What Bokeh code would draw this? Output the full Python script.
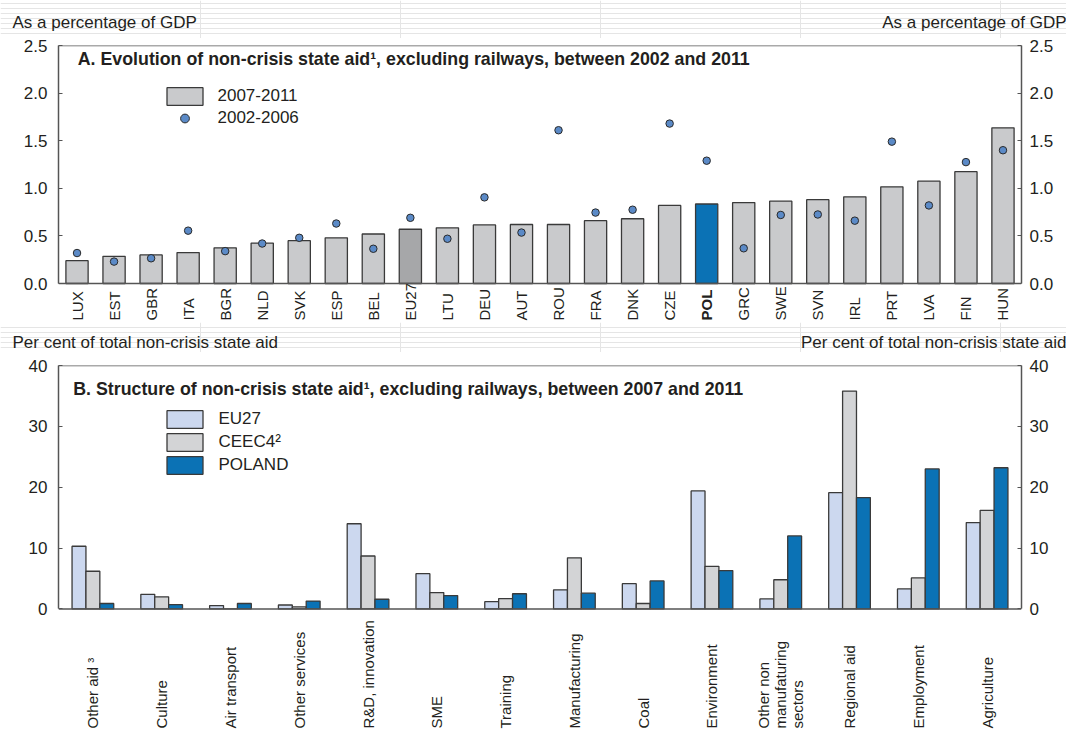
import math
from bokeh.plotting import figure
from bokeh.models import (ColumnDataSource, Range1d, FactorRange, LinearAxis, Label, Span,
                          Legend, LegendItem, FixedTicker, NumeralTickFormatter)
from bokeh.core.properties import value
from bokeh.transform import dodge
from bokeh.layouts import column
from bokeh.embed import file_html
from bokeh.resources import INLINE

# ---------------- data ----------------
countries = ["LUX", "EST", "GBR", "ITA", "BGR", "NLD", "SVK", "ESP", "BEL", "EU27", "LTU", "DEU", "AUT",
             "ROU", "FRA", "DNK", "CZE", "POL", "GRC", "SWE", "SVN", "IRL", "PRT", "LVA", "FIN", "HUN"]
aid_2007_2011 = [0.24, 0.285, 0.30, 0.325, 0.375, 0.425, 0.45, 0.48, 0.52, 0.57, 0.585, 0.615, 0.62,
                 0.62, 0.66, 0.68, 0.82, 0.835, 0.85, 0.865, 0.88, 0.91, 1.015, 1.075, 1.175, 1.635]
aid_2002_2006 = [0.32, 0.23, 0.265, 0.555, 0.34, 0.42, 0.48, 0.63, 0.365, 0.69, 0.47, 0.905, 0.535,
                 1.61, 0.745, 0.775, 1.68, 1.29, 0.37, 0.72, 0.725, 0.66, 1.49, 0.82, 1.275, 1.40]
top_ticks = [0.0, 0.5, 1.0, 1.5, 2.0, 2.5]

sectors = ["Other aid \u00b3", "Culture", "Air transport", "Other services", "R&D, innovation", "SME",
           "Training", "Manufacturing", "Coal", "Environment", "Other non\nmanufaturing\nsectors",
           "Regional aid", "Employment", "Agriculture"]
eu27 = [10.3, 2.4, 0.55, 0.65, 14.0, 5.8, 1.2, 3.15, 4.15, 19.4, 1.65, 19.1, 3.3, 14.2]
ceec4 = [6.2, 2.0, 0.0, 0.35, 8.7, 2.7, 1.7, 8.4, 0.9, 7.0, 4.8, 35.8, 5.1, 16.2]
poland = [0.9, 0.7, 0.9, 1.3, 1.6, 2.2, 2.5, 2.6, 4.6, 6.3, 12.0, 18.3, 23.0, 23.2]
bottom_ticks = [0, 10, 20, 30, 40]

title_a = "A. Evolution of non-crisis state aid\u00b9, excluding railways, between 2002 and 2011"
title_b = "B. Structure of non-crisis state aid\u00b9, excluding railways, between 2007 and 2011"
unit_a = "As a percentage of GDP"
unit_b = "Per cent of total non-crisis state aid"

# ---------------- styles / layout ----------------
FONT = "Liberation Sans"
TXT = "#231f20"
EDGE = "#3a3a3a"
AXIS = "#555555"
GREY = "#c9cacc"
DARKGREY = "#a6a7a9"
BLUE = "#0b72b5"
LIGHTBLUE = "#ccd8ef"
CEEC_GREY = "#d3d4d6"
DOT = "#5b8ac7"

W = 1066
LEFT, RIGHT = 58, 45
A_PX_PER_UNIT = 95.2      # vertical scale of panel A
A_LABEL_SPACE = 37        # px below the zero line for country labels
B_PX_PER_UNIT = 6.085     # vertical scale of panel B
B_LABEL_SPACE = 119.5     # px below the zero line for sector labels


def style_axis(ax, ticks, fmt, standoff, top):
    ax.ticker = FixedTicker(ticks=ticks)
    ax.formatter = NumeralTickFormatter(format=fmt)
    ax.bounds = (0, top)
    ax.major_label_text_font = FONT
    ax.major_label_text_font_size = "17px"
    ax.major_label_text_color = TXT
    ax.axis_line_color = AXIS
    ax.axis_line_width = 1.5
    ax.major_tick_line_color = AXIS
    ax.major_tick_in = 4
    ax.major_tick_out = 0
    ax.minor_tick_line_color = None
    ax.major_label_standoff = standoff


def unit_strip(text, h, ymid):
    s = figure(width=W, height=h, x_range=Range1d(0, W), y_range=Range1d(0, h),
               output_backend="svg", toolbar_location=None,
               x_axis_location=None, y_axis_location=None,
               min_border_left=0, min_border_right=0, min_border_top=0, min_border_bottom=0)
    s.frame_align = False
    s.outline_line_color = None
    s.text(x=[12], y=[ymid], text=[text], text_font=value(FONT), text_font_size="17px",
           text_color=TXT, text_baseline="middle", text_align="left")
    s.text(x=[W], y=[ymid], text=[text], text_font=value(FONT), text_font_size="17px",
           text_color=TXT, text_baseline="middle", text_align="right")
    return s


def panel(xr, ymax, px_per_unit, label_space, h, top):
    ymin = -label_space / px_per_unit
    p = figure(width=W, height=h, x_range=xr, y_range=Range1d(ymin, ymax), output_backend="svg",
               toolbar_location=None, x_axis_location=None,
               min_border_left=LEFT, min_border_right=RIGHT, min_border_top=top, min_border_bottom=2)
    p.outline_line_color = None
    p.grid.visible = False
    p.add_layout(Span(location=0, dimension="width", line_color=AXIS, line_width=1.5))
    p.add_layout(Span(location=ymax, dimension="width", line_color=AXIS, line_width=1.5))
    return p, ymin


# ---------------- panel A ----------------
s1 = unit_strip(unit_a, 38, 16.5)
p1, ymin_a = panel(FactorRange(*countries), 2.5, A_PX_PER_UNIT, A_LABEL_SPACE, 284, 7)
colors_a = [DARKGREY if c == "EU27" else (BLUE if c == "POL" else GREY) for c in countries]
src_a = ColumnDataSource(dict(c=countries, v1=aid_2007_2011, v0=aid_2002_2006, col=colors_a))
bars_a = p1.vbar(x="c", top="v1", bottom=0, width=0.6, source=src_a, fill_color="col",
                 line_color=EDGE, line_width=1.3)
dots_a = p1.scatter(x="c", y="v0", size=7.5, source=src_a, fill_color=DOT,
                    line_color="#2a2a2a", line_width=1)
style_axis(p1.yaxis[0], top_ticks, "0.0", 11, 2.5)
ra = LinearAxis()
style_axis(ra, top_ticks, "0.0", 8, 2.5)
p1.add_layout(ra, "right")

leg_a = Legend(items=[LegendItem(label="2007-2011", renderers=[bars_a], index=0),
                      LegendItem(label="2002-2006", renderers=[dots_a], index=0)],
               location=(103.5, 154 + A_LABEL_SPACE), padding=0, margin=0, spacing=0,
               glyph_width=45, glyph_height=22, label_height=18, label_standoff=11,
               label_text_font=FONT, label_text_font_size="17px", label_text_color=TXT,
               border_line_color=None, background_fill_alpha=0)
p1.add_layout(leg_a)

normal_c = [c for c in countries if c != "POL"]
p1.text(x=normal_c, y=[ymin_a] * len(normal_c), text=normal_c, angle=math.pi / 2,
        text_align="left", text_baseline="middle", text_font=value(FONT),
        text_font_size="15px", text_color=TXT)
p1.text(x=["POL"], y=[ymin_a], text=["POL"], angle=math.pi / 2,
        text_align="left", text_baseline="middle", text_font=value(FONT),
        text_font_size="15px", text_font_style="bold", text_color=TXT)
p1.add_layout(Label(x=0.52, y=2.36, text=title_a, text_font=FONT, text_font_size="17.8px",
                    text_font_style="bold", text_color=TXT, text_baseline="middle"))

# ---------------- panel B ----------------
s2 = unit_strip(unit_b, 30, 10.5)
p2, ymin_b = panel(FactorRange(*sectors), 40, B_PX_PER_UNIT, B_LABEL_SPACE, 378, 13)
src_b = ColumnDataSource(dict(s=sectors, eu=eu27, ce=ceec4, pl=poland))
rb1 = p2.vbar(x=dodge("s", -0.202, range=p2.x_range), top="eu", bottom=0, width=0.202,
              source=src_b, fill_color=LIGHTBLUE, line_color=EDGE, line_width=1.3)
rb2 = p2.vbar(x=dodge("s", 0.0, range=p2.x_range), top="ce", bottom=0, width=0.202,
              source=src_b, fill_color=CEEC_GREY, line_color=EDGE, line_width=1.3)
rb3 = p2.vbar(x=dodge("s", 0.202, range=p2.x_range), top="pl", bottom=0, width=0.202,
              source=src_b, fill_color=BLUE, line_color=EDGE, line_width=1.3)
style_axis(p2.yaxis[0], bottom_ticks, "0", 11, 40)
rb = LinearAxis()
style_axis(rb, bottom_ticks, "0", 8, 40)
p2.add_layout(rb, "right")

leg_b = Legend(items=[LegendItem(label="EU27", renderers=[rb1]),
                      LegendItem(label="CEEC4\u00b2", renderers=[rb2]),
                      LegendItem(label="POLAND", renderers=[rb3])],
               location=(103.5, 132.6 + B_LABEL_SPACE), padding=0, margin=0, spacing=1,
               glyph_width=45, glyph_height=22, label_height=18, label_standoff=12,
               label_text_font=FONT, label_text_font_size="17px", label_text_color=TXT,
               border_line_color=None, background_fill_alpha=0)
p2.add_layout(leg_b)

p2.text(x=sectors, y=[ymin_b] * len(sectors), text=sectors, angle=math.pi / 2,
        text_align="left", text_baseline="middle", text_font=value(FONT),
        text_font_size="15px", text_color=TXT, text_line_height=1.0)
p2.add_layout(Label(x=0.214, y=36.06, text=title_b, text_font=FONT, text_font_size="17.8px",
                    text_font_style="bold", text_color=TXT, text_baseline="middle"))

layout = column(s1, p1, s2, p2, spacing=0)
open("out.html", "w").write(file_html(layout, INLINE))
